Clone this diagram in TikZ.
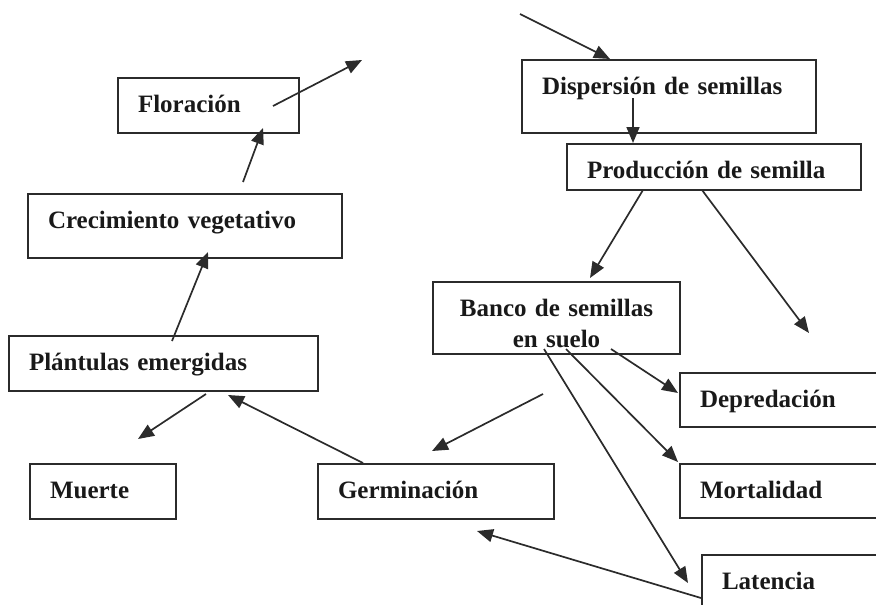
\documentclass[tikz,border=0pt]{standalone}
\usepackage{fontspec}
\setmainfont{Liberation Serif}
\usepackage{xcolor}
\usepackage{tikz}
\usetikzlibrary{arrows.meta,positioning}

\definecolor{linegray}{HTML}{2B2B2B}

\tikzset{
  box/.style={draw=linegray, line width=2pt, anchor=north west, inner xsep=20pt, inner ysep=0pt,
    text height=34.5pt, align=left, text=black!90, font=\bfseries\fontsize{25}{31}\selectfont},
  flow/.style={draw=linegray, line width=1.7pt, -{Triangle[length=16pt,width=13pt]}}
}

\begin{document}
\begin{tikzpicture}[x=1pt,y=-1pt]
    \useasboundingbox (0,0) rectangle (876,605);
    \clip (0,0) rectangle (876,605);

    % Boxes (left column)
    \node[box, text width=141pt, text depth=20.5pt] (flor) at (117,77) {Floración};
    \node[box, text width=274pt, text depth=29.5pt] (crec) at (27,193) {Crecimiento vegetativo};
    \node[box, text width=269pt, text depth=20.5pt] (plant) at (8,335) {Plántulas emergidas};
    \node[box, text width=106pt, text depth=20.5pt] (muerte) at (29,463) {Muerte};
    \node[box, text width=196pt, text depth=20.5pt] (germ) at (317,463) {Germinación};

    % Boxes (right column)
    \node[box, text width=254pt, text depth=38.5pt] (disp) at (521,59) {Dispersión de semillas};
    \node[box, text width=254pt, text depth=11.5pt] (prod) at (566,143) {Producción de semilla};
    \node[box, align=center, text width=207pt, text depth=37.5pt] (banco) at (432,281) {Banco de semillas\\en suelo};
    \node[box, text width=200pt, text depth=19.5pt] (depred) at (679,372) {Depredación};
    \node[box, text width=200pt, text depth=19.5pt] (mortal) at (679,463) {Mortalidad};
    \node[box, text width=200pt, text depth=60pt] (laten) at (701,554) {Latencia};

    % Free arrow ends
    \coordinate (in-disp) at (520,14);
    \coordinate (disp-top) at (610,59);
    \coordinate (disp-out) at (633,98);
    \coordinate (prod-top) at (633,143);
    \coordinate (prod-l) at (643,190);
    \coordinate (prod-r) at (702,190);
    \coordinate (banco-top) at (590,278);
    \coordinate (lost) at (809,333);
    \coordinate (banco-a) at (611,349);
    \coordinate (banco-b) at (566,349);
    \coordinate (banco-c) at (544,349);
    \coordinate (banco-d) at (543,394);
    \coordinate (depred-in) at (678,393);
    \coordinate (mortal-in) at (678,462);
    \coordinate (laten-in) at (688,583);
    \coordinate (laten-out) at (701,598);
    \coordinate (germ-in) at (432,451);
    \coordinate (germ-low) at (477,531);
    \coordinate (germ-out) at (363,463);
    \coordinate (plant-in) at (228,395);
    \coordinate (plant-out) at (206,394);
    \coordinate (muerte-in) at (138,439);
    \coordinate (plant-up) at (172,341);
    \coordinate (crec-in) at (208,252);
    \coordinate (crec-out) at (243,182);
    \coordinate (flor-in) at (263,128);
    \coordinate (flor-out) at (273,106);
    \coordinate (out-flor) at (362,60);

    % Arrows
    \draw[flow] (in-disp) -- (disp-top);
    \draw[flow] (disp-out) -- (prod-top);
    \draw[flow] (prod-l) -- (banco-top);
    \draw[flow] (prod-r) -- (lost);
    \draw[flow] (banco-a) -- (depred-in);
    \draw[flow] (banco-b) -- (mortal-in);
    \draw[flow] (banco-c) -- (laten-in);
    \draw[flow] (banco-d) -- (germ-in);
    \draw[flow] (laten-out) -- (germ-low);
    \draw[flow] (germ-out) -- (plant-in);
    \draw[flow] (plant-out) -- (muerte-in);
    \draw[flow] (plant-up) -- (crec-in);
    \draw[flow] (crec-out) -- (flor-in);
    \draw[flow] (flor-out) -- (out-flor);

\end{tikzpicture}
\end{document}
